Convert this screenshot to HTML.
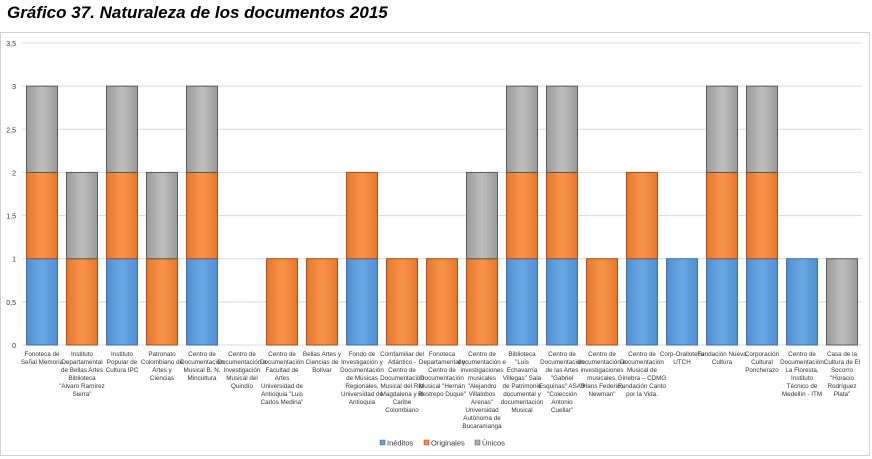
<!DOCTYPE html>
<html><head><meta charset="utf-8"><style>
body{margin:0;background:#fff;width:872px;height:459px;overflow:hidden;font-family:"Liberation Sans",sans-serif}
#title{position:absolute;left:7px;top:3px;font-size:17px;font-weight:bold;font-style:italic;color:#000}
#box{position:absolute;left:0;top:32px;width:870px;height:424px;border:1px solid #d0d0d0;box-sizing:border-box}
</style></head><body>
<div id="title">Gráfico 37.  Naturaleza de los documentos 2015</div>
<div id="box"></div>
<svg id="chart" width="872" height="459" style="position:absolute;left:0;top:0">
<defs>
<linearGradient id="gb" x1="0" x2="1"><stop offset="0" stop-color="#4f8fd0"/><stop offset="0.5" stop-color="#6aa8e4"/><stop offset="1" stop-color="#4f8fd0"/></linearGradient>
<linearGradient id="go" x1="0" x2="1"><stop offset="0" stop-color="#e8772c"/><stop offset="0.5" stop-color="#f7944a"/><stop offset="1" stop-color="#e8772c"/></linearGradient>
<linearGradient id="gg" x1="0" x2="1"><stop offset="0" stop-color="#9c9c9c"/><stop offset="0.5" stop-color="#bdbdbd"/><stop offset="1" stop-color="#9c9c9c"/></linearGradient>
</defs>
</svg>
<script>
const categories=["Fonoteca de Señal Memoria","Instituto Departamental de Bellas Artes Biblioteca \"Alvaro Ramírez Sierra\"","Instituto Popular de Cultura IPC","Patronato Colombiano de Artes y Ciencias","Centro de Documentación Musical B. N. Mincultura","Centro de Documentación e Investigación Musical del Quindío","Centro de Documentación Facultad de Artes Universidad de Antioquia \"Luis Carlos Medina\"","Bellas Artes y Ciencias de Bolívar","Fondo de Investigación y Documentación de Músicas Regionales, Universidad de Antioquia","Comfamiliar del Atlántico - Centro de Documentación Musical del Río Magdalena y el Caribe Colombiano","Fonoteca Departamental y Centro de Documentación Musical \"Hernán Restrepo Duque\"","Centro de documentación e investigaciones musicales \"Alejandro Villalobos Arenas\" Universidad Autónoma de Bucaramanga","Biblioteca \"Luis Echavarría Villegas\" Sala de Patrimonio documental y documentación Musical","Centro de Documentación de las Artes \"Gabriel Esquinas\" ASAB \"Colección Antonio Cuellar\"","Centro de documentación e investigaciones musicales, \"Hans Federico Newman\"","Centro de Documentación Musical de Ginebra – CDMG Fundación Canto por la Vida.","Corp-Oralloteca UTCH","Fundación Nueva Cultura","Corporación Cultural Poncherazo","Centro de Documentación La Floresta, Instituto Técnico de Medellín - ITM","Casa de la Cultura de El Socorro \"Horacio Rodríguez Plata\""];
const ineditos=[1,0,1,0,1,0,0,0,1,0,0,0,1,1,0,1,1,1,1,1,0];
const originales=[1,1,1,1,1,0,1,1,1,1,1,1,1,1,1,1,0,1,1,0,0];
const unicos=[1,1,1,1,1,0,0,0,0,0,0,1,1,1,0,0,0,1,1,0,1];
const yTicks=["0","0,5","1","1,5","2","2,5","3","3,5"];
const series=[["Inéditos",ineditos,"url(#gb)","#3f6f9f"],["Originales",originales,"url(#go)","#a0521c"],["Únicos",unicos,"url(#gg)","#5a5a5a"]];
const svg=document.getElementById('chart');const NS="http://www.w3.org/2000/svg";
const X0=22,X1=862,Y0=345,Ymax=43,VMAX=3.5;
const y=v=>Y0-(v/VMAX)*(Y0-Ymax);
const bw=(X1-X0)/categories.length;
const x=i=>X0+bw*i+bw/2;
function mk(t,a){const e=document.createElementNS(NS,t);for(const k in a)e.setAttribute(k,a[k]);svg.appendChild(e);return e;}
yTicks.forEach((t,i)=>{const v=i*0.5;
const g=mk('line',{x1:X0,x2:X1,y1:y(v),y2:y(v),stroke:'#d9d9d9','stroke-width':1});


const l=mk('text',{x:16,y:y(v)+3,'text-anchor':'end','font-size':7,fill:'#333'});l.textContent=t;

});
categories.forEach((c,i)=>{let base=0;
series.forEach(s=>{const v=s[1][i];if(v>0){
const r=mk('rect',{x:x(i)-15.5,y:y(base+v),width:31,height:y(base)-y(base+v),fill:s[2],stroke:s[3],'stroke-width':1});

}
base+=v;});
const t=mk('text',{'text-anchor':'middle','font-size':6.3,fill:'#333'});


const words=c.split(' ');let lines=[],cur='';
words.forEach(w=>{const tr=cur?cur+' '+w:w;if(tr.length>15&&cur){lines.push(cur);cur=w;}else cur=tr;});lines.push(cur);
lines.forEach((ln,k)=>{const ts=document.createElementNS(NS,'tspan');ts.setAttribute('x',x(i));ts.setAttribute('y',356+k*8);ts.textContent=ln;t.appendChild(ts);});});
const lx=[380,424,475];
series.forEach((s,k)=>{
const r=mk('rect',{x:lx[k],y:440,width:5,height:5,fill:s[2],stroke:s[3],'stroke-width':0.5});


const t=mk('text',{x:lx[k]+7,y:445.5,'font-size':7.5,fill:'#333'});t.textContent=s[0];

});
</script>
</body></html>
